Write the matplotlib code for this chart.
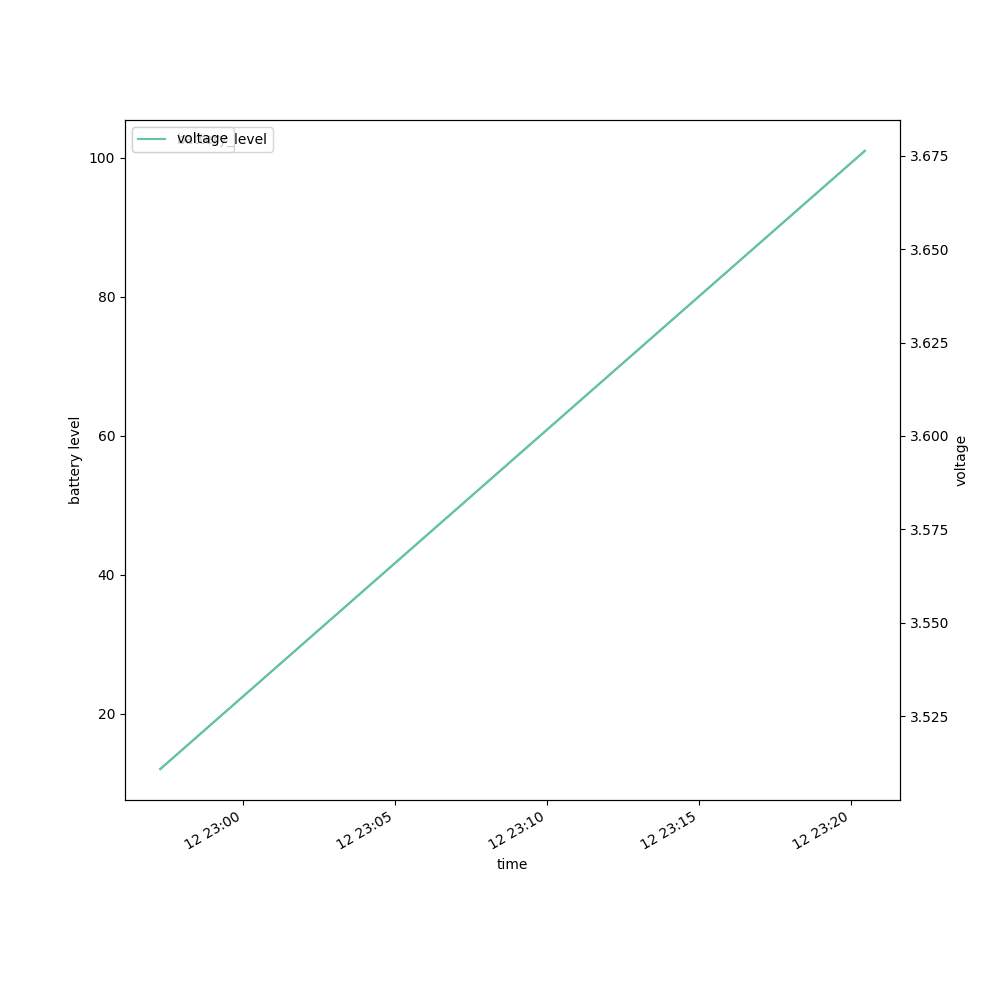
import pandas as pd
import matplotlib
matplotlib.use('Agg')
import matplotlib.pyplot as plt

times = pd.to_datetime(['2023-06-12 22:57:16', '2023-06-12 23:20:28'])
battery_level = [12, 101]
voltage = [3.5108, 3.6763]

line_color = '#66c2a5'


def main():
    fig, ax = plt.subplots(figsize=(10, 10), dpi=100)
    ax.plot(times, battery_level, color=line_color, label='battery_level')
    ax.set_xlabel('time')
    ax.set_ylabel('battery level')
    ax.legend(loc='upper left')

    ax2 = ax.twinx()
    ax2.plot(times, voltage, color=line_color, label='voltage')
    ax2.set_ylabel('voltage')
    ax2.legend(loc='upper left')

    fig.autofmt_xdate()
    fig.savefig('out.png')


main()
